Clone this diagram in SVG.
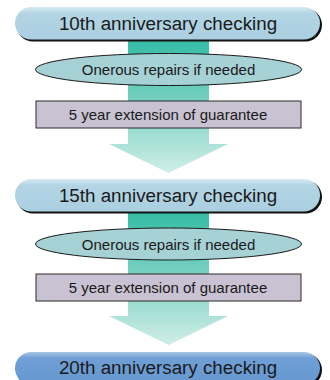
<svg xmlns="http://www.w3.org/2000/svg" width="330" height="380" viewBox="0 0 330 380">
<defs>
<linearGradient id="flow" x1="0" y1="0" x2="0" y2="1">
<stop offset="0" stop-color="#34bca5"/>
<stop offset="0.5" stop-color="#7ed2c3"/>
<stop offset="1" stop-color="#cfeee8"/>
</linearGradient>
<linearGradient id="pillA" x1="0" y1="0" x2="0" y2="1">
<stop offset="0" stop-color="#d6e9f1"/>
<stop offset="0.2" stop-color="#b3d5e4"/>
<stop offset="1" stop-color="#aacfe0"/>
</linearGradient>
<linearGradient id="pillB" x1="0" y1="0" x2="0" y2="1">
<stop offset="0" stop-color="#a9c6e6"/>
<stop offset="0.2" stop-color="#6f9fd5"/>
<stop offset="1" stop-color="#6597cf"/>
</linearGradient>
</defs>
<style>
.t{font-family:"Liberation Sans",Arial,sans-serif;fill:#1a1a1a;text-anchor:middle}
.big{font-size:18.8px}
.small{font-size:15px}
.shadow{fill:#111}
.ell{fill:#a6d1d5;stroke:#1a1a1a;stroke-width:1}
.box{fill:#c9c2d3;stroke:#2a2a2a;stroke-width:1}
.flow{fill:url(#flow)}
</style>
<g id="connectors">
<path class="flow" d="M128 40 H209 V144 H228 L168.5 173 L109 144 H128 Z"/>
<path class="flow" d="M128 212 H209 V316 H228 L168.5 345 L109 316 H128 Z"/>
</g>
<g id="check10">
<rect class="shadow" x="16.5" y="8.5" width="305.5" height="33" rx="16.5"/>
<rect x="15" y="7" width="305" height="32.5" rx="16.2" fill="url(#pillA)"/>
<text class="t big" x="168" y="30">10th anniversary checking</text>
</g>
<g id="repairs1">
<ellipse class="ell" cx="168.5" cy="69.5" rx="133" ry="16"/>
<text class="t small" x="168.5" y="75">Onerous repairs if needed</text>
</g>
<g id="extension1">
<rect class="box" x="36" y="101" width="265" height="27"/>
<text class="t small" x="168" y="119.5">5 year extension of guarantee</text>
</g>
<g id="check15">
<rect class="shadow" x="16.5" y="180.5" width="305.5" height="33" rx="16.5"/>
<rect x="15" y="179" width="305" height="32.5" rx="16.2" fill="url(#pillA)"/>
<text class="t big" x="168" y="202">15th anniversary checking</text>
</g>
<g id="repairs2">
<ellipse class="ell" cx="168.5" cy="244" rx="133" ry="16"/>
<text class="t small" x="168.5" y="249.5">Onerous repairs if needed</text>
</g>
<g id="extension2">
<rect class="box" x="36" y="274" width="265" height="27"/>
<text class="t small" x="168" y="292.5">5 year extension of guarantee</text>
</g>
<g id="check20">
<rect class="shadow" x="16.5" y="353.5" width="305.5" height="33" rx="16.5"/>
<rect x="15" y="352" width="305" height="32.5" rx="16.2" fill="url(#pillB)"/>
<text class="t big" x="168" y="374">20th anniversary checking</text>
</g>
</svg>
